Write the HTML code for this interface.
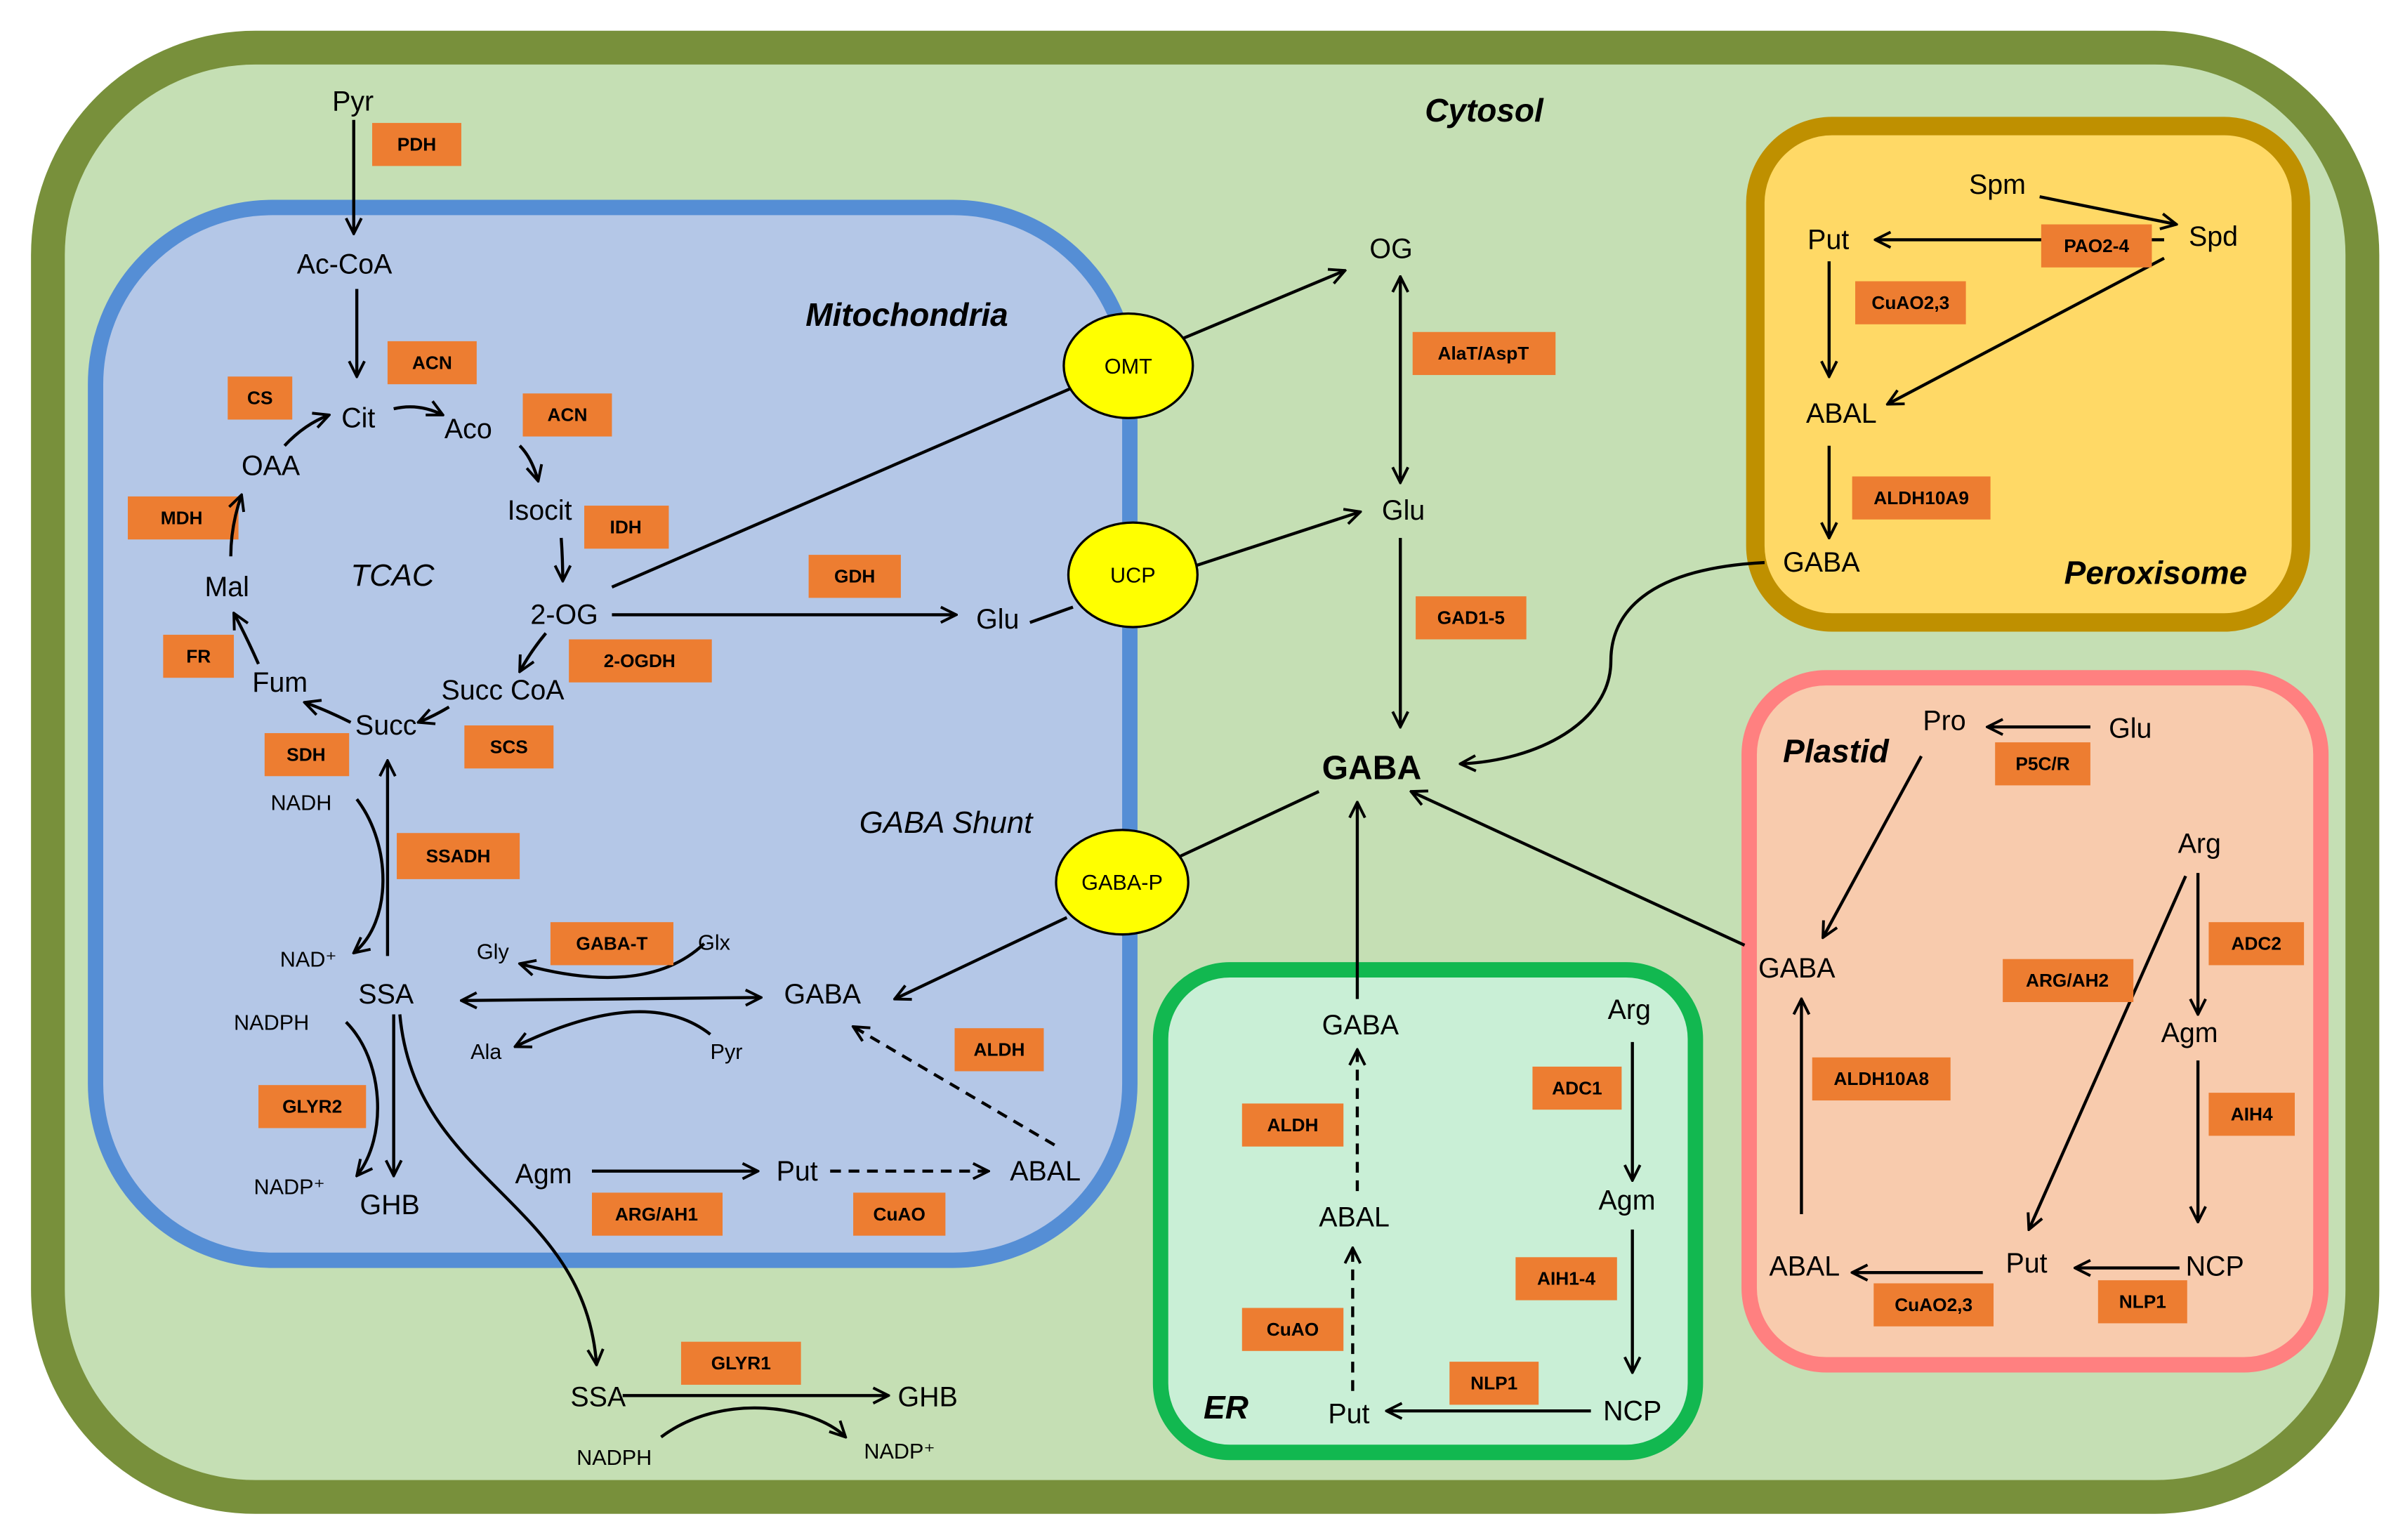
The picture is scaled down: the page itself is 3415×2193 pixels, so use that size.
<!DOCTYPE html>
<html><head><meta charset="utf-8"><style>
html,body{margin:0;padding:0;background:#fff;}
svg{display:block;}
text{font-family:"Liberation Sans",sans-serif;fill:#000;}
.t{font-size:18px;}
.s{font-size:14px;}
.b{font-size:12px;font-weight:bold;text-anchor:middle;}
.i{font-style:italic;font-size:20px;}
.bi{font-style:italic;font-weight:bold;font-size:21px;}
.e{fill:#ed7d31;}
line,path.l{stroke:#000;stroke-width:2;fill:none;}
.d{stroke-dasharray:7,5;}
</style></head><body>
<svg width="3415" height="2193" viewBox="0 0 1560 1002" xmlns="http://www.w3.org/2000/svg">
<defs>
<marker id="a" viewBox="0 0 12 12" refX="11" refY="6" markerWidth="12" markerHeight="12" markerUnits="userSpaceOnUse" orient="auto-start-reverse">
<path d="M1,1 L11,6 L1,11" fill="none" stroke="#000" stroke-width="1.8"/></marker>
</defs>
<rect x="31" y="31" width="1506" height="943" rx="135" fill="#c5dfb4" stroke="#78903b" stroke-width="22"/>
<rect x="62" y="135" width="673" height="685" rx="115" fill="#b4c7e7" stroke="#558ed5" stroke-width="10"/>
<rect x="1142" y="82" width="355" height="323" rx="50" fill="#ffd966" stroke="#bf9000" stroke-width="12"/>
<rect x="1138" y="441" width="372" height="447" rx="50" fill="#f8cbad" stroke="#ff8080" stroke-width="10"/>
<rect x="755" y="631" width="348" height="314" rx="45" fill="#c9efd6" stroke="#12b850" stroke-width="10"/>

<g>
<line x1="230" y1="78" x2="230" y2="152" marker-end="url(#a)"/>
<line x1="232" y1="188" x2="232" y2="245" marker-end="url(#a)"/>
<path class="l" d="M256,266 Q272,262 288,270" marker-end="url(#a)"/>
<path class="l" d="M338,290 Q346,298 350,313" marker-end="url(#a)"/>
<path class="l" d="M365,350 Q366,364 366,378" marker-end="url(#a)"/>
<path class="l" d="M355,412 Q345,424 338,437" marker-end="url(#a)"/>
<path class="l" d="M292,460 Q282,466 272,470" marker-end="url(#a)"/>
<path class="l" d="M228,470 Q212,462 198,457" marker-end="url(#a)"/>
<path class="l" d="M168,432 Q160,414 152,399" marker-end="url(#a)"/>
<line x1="398" y1="400" x2="622" y2="400" marker-end="url(#a)"/>
<line x1="398" y1="382" x2="696" y2="253"/>
<line x1="770" y1="220" x2="875" y2="176" marker-end="url(#a)"/>
<line x1="670" y1="405" x2="698" y2="395"/>
<line x1="778" y1="368" x2="885" y2="333" marker-end="url(#a)"/>
<line x1="911" y1="180" x2="911" y2="314" marker-start="url(#a)" marker-end="url(#a)"/>
<line x1="911" y1="350" x2="911" y2="473" marker-end="url(#a)"/>
<line x1="768" y1="557" x2="858" y2="515"/>
<line x1="694" y1="597" x2="582" y2="650" marker-end="url(#a)"/>
<line x1="300" y1="651" x2="495" y2="649" marker-start="url(#a)" marker-end="url(#a)"/>
<path class="l" d="M458,614 Q420,650 338,627" marker-end="url(#a)"/>
<path class="l" d="M462,673 Q420,640 335,681" marker-end="url(#a)"/>
<line class="d" x1="686" y1="745" x2="555" y2="668" marker-end="url(#a)"/>
<line x1="385" y1="762" x2="493" y2="762" marker-end="url(#a)"/>
<line class="d" x1="540" y1="762" x2="643" y2="762" marker-end="url(#a)"/>
<line x1="252" y1="622" x2="252" y2="495" marker-end="url(#a)"/>
<line x1="256" y1="660" x2="256" y2="765" marker-end="url(#a)"/>
<path class="l" d="M232,520 C255,550 255,600 230,620" marker-end="url(#a)"/>
<path class="l" d="M225,665 C250,690 252,740 232,765" marker-end="url(#a)"/>
<path class="l" d="M260,660 C270,770 380,780 388,888" marker-end="url(#a)"/>
<line x1="405" y1="908" x2="578" y2="908" marker-end="url(#a)"/>
<path class="l" d="M430,935 C470,905 530,915 550,935" marker-end="url(#a)"/>
<line x1="1327" y1="128" x2="1416" y2="146" marker-end="url(#a)"/>
<line x1="1408" y1="156" x2="1220" y2="156" marker-end="url(#a)"/>
<line x1="1408" y1="168" x2="1228" y2="263" marker-end="url(#a)"/>
<line x1="1190" y1="170" x2="1190" y2="245" marker-end="url(#a)"/>
<line x1="1190" y1="290" x2="1190" y2="350" marker-end="url(#a)"/>
<path class="l" d="M1148,366 C1070,370 1048,400 1048,430 C1048,470 1000,495 950,497" marker-end="url(#a)"/>
<line x1="1135" y1="615" x2="918" y2="515" marker-end="url(#a)"/>
<line x1="1360" y1="473" x2="1293" y2="473" marker-end="url(#a)"/>
<line x1="1250" y1="492" x2="1186" y2="610" marker-end="url(#a)"/>
<line x1="1430" y1="568" x2="1430" y2="660" marker-end="url(#a)"/>
<line x1="1422" y1="570" x2="1320" y2="800" marker-end="url(#a)"/>
<line x1="1430" y1="690" x2="1430" y2="795" marker-end="url(#a)"/>
<line x1="1418" y1="825" x2="1350" y2="825" marker-end="url(#a)"/>
<line x1="1290" y1="828" x2="1205" y2="828" marker-end="url(#a)"/>
<line x1="1172" y1="790" x2="1172" y2="650" marker-end="url(#a)"/>
<line class="d" x1="880" y1="905" x2="880" y2="812" marker-end="url(#a)"/>
<line class="d" x1="883" y1="775" x2="883" y2="683" marker-end="url(#a)"/>
<line x1="883" y1="650" x2="883" y2="522" marker-end="url(#a)"/>
<line x1="1062" y1="678" x2="1062" y2="768" marker-end="url(#a)"/>
<line x1="1062" y1="800" x2="1062" y2="893" marker-end="url(#a)"/>
<line x1="1035" y1="918" x2="902" y2="918" marker-end="url(#a)"/>
</g>

<g fill="#ffff00" stroke="#000" stroke-width="1.5">
<ellipse cx="734" cy="238" rx="42" ry="34"/>
<ellipse cx="737" cy="374" rx="42" ry="34"/>
<ellipse cx="730" cy="574" rx="43" ry="34"/>
</g>
<g text-anchor="middle">
<text x="734" y="243" class="s">OMT</text>
<text x="737" y="379" class="s">UCP</text>
<text x="730" y="579" class="s">GABA-P</text>
</g>

<g class="e">
<rect x="242" y="80" width="58" height="28"/><rect x="252" y="222" width="58" height="28"/>
<rect x="148" y="245" width="42" height="28"/><rect x="340" y="256" width="58" height="28"/>
<rect x="83" y="323" width="72" height="28"/><rect x="380" y="329" width="55" height="28"/>
<rect x="526" y="361" width="60" height="28"/><rect x="106" y="413" width="46" height="28"/>
<rect x="370" y="416" width="93" height="28"/><rect x="172" y="477" width="55" height="28"/>
<rect x="302" y="472" width="58" height="28"/><rect x="258" y="542" width="80" height="30"/>
<rect x="358" y="600" width="80" height="28"/><rect x="621" y="669" width="58" height="28"/>
<rect x="168" y="706" width="70" height="28"/><rect x="385" y="776" width="85" height="28"/>
<rect x="555" y="776" width="60" height="28"/><rect x="443" y="873" width="78" height="28"/>
<rect x="919" y="216" width="93" height="28"/><rect x="921" y="388" width="72" height="28"/>
<rect x="1328" y="146" width="72" height="28"/><rect x="1207" y="183" width="72" height="28"/>
<rect x="1205" y="310" width="90" height="28"/><rect x="1298" y="483" width="62" height="28"/>
<rect x="1437" y="600" width="62" height="28"/><rect x="1303" y="624" width="85" height="28"/>
<rect x="1179" y="688" width="90" height="28"/><rect x="1437" y="711" width="56" height="28"/>
<rect x="1219" y="835" width="78" height="28"/><rect x="1365" y="833" width="58" height="28"/>
<rect x="997" y="694" width="58" height="28"/><rect x="808" y="718" width="66" height="28"/>
<rect x="986" y="818" width="66" height="28"/><rect x="808" y="851" width="66" height="28"/>
<rect x="943" y="886" width="58" height="28"/>
</g>
<path class="l" d="M150,362 Q150,342 157,322" marker-end="url(#a)"/>
<path class="l" d="M185,290 Q198,276 214,270" marker-end="url(#a)"/>
<g>
<text class="b" x="271" y="98">PDH</text><text class="b" x="281" y="240">ACN</text>
<text class="b" x="169" y="263">CS</text><text class="b" x="369" y="274">ACN</text>
<text class="b" x="118" y="341">MDH</text><text class="b" x="407" y="347">IDH</text>
<text class="b" x="556" y="379">GDH</text><text class="b" x="129" y="431">FR</text>
<text class="b" x="416" y="434">2-OGDH</text><text class="b" x="199" y="495">SDH</text>
<text class="b" x="331" y="490">SCS</text><text class="b" x="298" y="561">SSADH</text>
<text class="b" x="398" y="618">GABA-T</text><text class="b" x="650" y="687">ALDH</text>
<text class="b" x="203" y="724">GLYR2</text><text class="b" x="427" y="794">ARG/AH1</text>
<text class="b" x="585" y="794">CuAO</text><text class="b" x="482" y="891">GLYR1</text>
<text class="b" x="965" y="234">AlaT/AspT</text><text class="b" x="957" y="406">GAD1-5</text>
<text class="b" x="1364" y="164">PAO2-4</text><text class="b" x="1243" y="201">CuAO2,3</text>
<text class="b" x="1250" y="328">ALDH10A9</text><text class="b" x="1329" y="501">P5C/R</text>
<text class="b" x="1468" y="618">ADC2</text><text class="b" x="1345" y="642">ARG/AH2</text>
<text class="b" x="1224" y="706">ALDH10A8</text><text class="b" x="1465" y="729">AIH4</text>
<text class="b" x="1258" y="853">CuAO2,3</text><text class="b" x="1394" y="851">NLP1</text>
<text class="b" x="1026" y="712">ADC1</text><text class="b" x="841" y="736">ALDH</text>
<text class="b" x="1019" y="836">AIH1-4</text><text class="b" x="841" y="869">CuAO</text>
<text class="b" x="972" y="904">NLP1</text>
</g>

<g>
<text class="t" x="216" y="72">Pyr</text>
<text class="t" x="193" y="178">Ac-CoA</text>
<text class="t" x="222" y="278">Cit</text>
<text class="t" x="289" y="285">Aco</text>
<text class="t" x="157" y="309">OAA</text>
<text class="t" x="330" y="338">Isocit</text>
<text class="t" x="133" y="388">Mal</text>
<text class="t" x="345" y="406">2-OG</text>
<text class="t" x="164" y="450">Fum</text>
<text class="t" x="287" y="455">Succ CoA</text>
<text class="t" x="231" y="478">Succ</text>
<text class="t" x="635" y="409">Glu</text>
<text class="t" x="233" y="653">SSA</text>
<text class="t" x="510" y="653">GABA</text>
<text class="t" x="234" y="790">GHB</text>
<text class="t" x="335" y="770">Agm</text>
<text class="t" x="505" y="768">Put</text>
<text class="t" x="657" y="768">ABAL</text>
<text class="t" x="371" y="915">SSA</text>
<text class="t" x="584" y="915">GHB</text>
<text class="t" x="891" y="168">OG</text>
<text class="t" x="899" y="338">Glu</text>
<text class="t" x="1281" y="126">Spm</text>
<text class="t" x="1176" y="162">Put</text>
<text class="t" x="1424" y="160">Spd</text>
<text class="t" x="1175" y="275">ABAL</text>
<text class="t" x="1160" y="372">GABA</text>
<text class="t" x="1251" y="475">Pro</text>
<text class="t" x="1372" y="480">Glu</text>
<text class="t" x="1417" y="555">Arg</text>
<text class="t" x="1144" y="636">GABA</text>
<text class="t" x="1406" y="678">Agm</text>
<text class="t" x="1151" y="830">ABAL</text>
<text class="t" x="1305" y="828">Put</text>
<text class="t" x="1422" y="830">NCP</text>
<text class="t" x="860" y="673">GABA</text>
<text class="t" x="1046" y="663">Arg</text>
<text class="t" x="1040" y="787">Agm</text>
<text class="t" x="858" y="798">ABAL</text>
<text class="t" x="864" y="926">Put</text>
<text class="t" x="1043" y="924">NCP</text>
</g>
<g>
<text class="s" x="310" y="624">Gly</text><text class="s" x="454" y="618">Glx</text>
<text class="s" x="306" y="689">Ala</text><text class="s" x="462" y="689">Pyr</text>
<text class="s" x="176" y="527">NADH</text><text class="s" x="182" y="629">NAD⁺</text>
<text class="s" x="152" y="670">NADPH</text><text class="s" x="165" y="777">NADP⁺</text>
<text class="s" x="375" y="953">NADPH</text><text class="s" x="562" y="949">NADP⁺</text>
</g>
<text x="860" y="507" font-size="22" font-weight="bold">GABA</text>
<text class="i" x="228" y="381">TCAC</text>
<text class="i" x="559" y="542">GABA Shunt</text>
<text class="bi" x="524" y="212">Mitochondria</text>
<text class="bi" x="927" y="79">Cytosol</text>
<text class="bi" x="1343" y="380">Peroxisome</text>
<text class="bi" x="1160" y="496">Plastid</text>
<text class="bi" x="783" y="923">ER</text>
</svg>
</body></html>
